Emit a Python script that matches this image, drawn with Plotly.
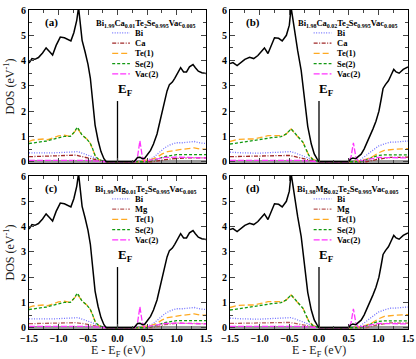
import plotly.graph_objects as go

# ---- data ----
# Bi1.99X0.01 (panels a, c)
e_tot_a = [-1.5, -1.45, -1.4, -1.34, -1.27, -1.21, -1.15, -1.1, -1.04, -0.97, -0.9, -0.84, -0.79,
           -0.74, -0.69, -0.66, -0.63, -0.6, -0.55, -0.5, -0.46, -0.42, -0.38, -0.33, -0.28, -0.23,
           -0.19, 0.28, 0.3, 0.34, 0.38, 0.42, 0.46, 0.5, 0.56, 0.61, 0.67, 0.72, 0.77, 0.8, 0.84,
           0.88, 0.93, 0.97, 1.02, 1.07, 1.12, 1.17, 1.22, 1.28, 1.32, 1.37, 1.43, 1.5]
tot_a = [3.9, 4.08, 4.05, 4.12, 4.3, 4.5, 4.35, 4.22, 4.6, 4.93, 4.9, 4.85, 4.78,
         5.1, 5.6, 6.1, 5.4, 4.8, 4.35, 3.85, 3.3, 2.5, 1.45, 0.85, 0.4, 0.12,
         0.0, 0.0, 0.05, 0.17, 0.18, 0.12, 0.14, 0.25, 0.45, 0.7, 1.1, 1.6, 2.1, 2.35, 2.8,
         3.05, 3.15, 3.3, 3.5, 3.72, 3.55, 3.55, 3.75, 3.84, 3.72, 3.58, 3.52, 3.49]

e_bi_a = [-1.5, -1.3, -1.1, -0.9, -0.75, -0.67, -0.55, -0.45, -0.35, -0.25, -0.15, 0.4, 0.5, 0.6,
          0.7, 0.8, 0.9, 1.0, 1.1, 1.2, 1.3, 1.4, 1.5]
bi_a = [0.35, 0.34, 0.35, 0.37, 0.38, 0.4, 0.3, 0.22, 0.12, 0.04, 0.0, 0.0, 0.05, 0.15,
        0.35, 0.55, 0.68, 0.75, 0.75, 0.78, 0.8, 0.74, 0.72]

e_dop_a = [-1.5, -1.2, -0.9, -0.7, -0.6, -0.5, -0.4, -0.3, -0.2, 0.6, 0.8, 1.0, 1.2, 1.5]
ca_a = [0.2, 0.22, 0.24, 0.26, 0.2, 0.15, 0.08, 0.03, 0.0, 0.0, 0.08, 0.13, 0.15, 0.15]
mg_a = [0.16, 0.17, 0.18, 0.2, 0.17, 0.13, 0.07, 0.03, 0.0, 0.0, 0.12, 0.18, 0.17, 0.16]

e_te_a = [-1.5, -1.43, -1.35, -1.25, -1.18, -1.1, -1.0, -0.9, -0.8, -0.74, -0.68, -0.6, -0.52,
          -0.46, -0.42, -0.38, -0.32, -0.25, -0.2, 0.35, 0.45, 0.55, 0.65, 0.75, 0.85, 0.95,
          1.05, 1.2, 1.3, 1.4, 1.5]
te_a = [0.8, 0.86, 0.88, 0.9, 0.87, 0.95, 1.02, 1.05, 1.0, 1.15, 1.32, 1.05, 0.9,
        0.72, 0.5, 0.25, 0.1, 0.02, 0.0, 0.0, 0.05, 0.08, 0.15, 0.3, 0.4, 0.45,
        0.48, 0.52, 0.55, 0.5, 0.5]

e_se_a = [-1.5, -1.4, -1.3, -1.2, -1.1, -1.0, -0.9, -0.8, -0.74, -0.68, -0.6, -0.52, -0.46,
          -0.42, -0.38, -0.32, -0.25, -0.2, 0.5, 0.6, 0.7, 0.8, 0.9, 1.0, 1.5]
se_a = [0.72, 0.75, 0.78, 0.82, 0.88, 0.95, 1.0, 1.0, 1.15, 1.37, 1.05, 0.9, 0.72,
        0.5, 0.25, 0.08, 0.02, 0.0, 0.0, 0.05, 0.12, 0.2, 0.25, 0.28, 0.28]

e_vac_a = [-1.5, -0.5, -0.3, -0.2, 0.3, 0.34, 0.38, 0.42, 0.46, 0.55, 0.7, 0.8, 1.0, 1.5]
vac_a = [0.05, 0.05, 0.02, 0.0, 0.0, 0.2, 0.83, 0.2, 0.02, 0.05, 0.12, 0.17, 0.18, 0.15]

# Bi1.98X0.02 (panels b, d)
e_tot_b = [-1.5, -1.45, -1.38, -1.32, -1.25, -1.17, -1.1, -1.03, -0.95, -0.92, -0.86, -0.8, -0.75,
           -0.68, -0.62, -0.55, -0.5, -0.47, -0.44, -0.41, -0.36, -0.3, -0.24, -0.19, -0.13, -0.08,
           -0.03, 0.0, 0.5, 0.53, 0.57, 0.62, 0.66, 0.71, 0.76, 0.81, 0.86, 0.91, 0.96, 1.01, 1.05,
           1.08, 1.12, 1.17, 1.21, 1.26, 1.3, 1.35, 1.42, 1.5]
tot_b = [3.88, 3.92, 3.8, 3.92, 4.05, 4.13, 4.08, 4.2, 4.45, 4.5, 4.28, 4.6, 4.9,
         4.88, 4.78, 5.0, 5.4, 6.1, 5.6, 5.1, 4.4, 3.6, 2.4, 1.4, 0.7, 0.31,
         0.1, 0.0, 0.0, 0.1, 0.15, 0.12, 0.2, 0.3, 0.5, 0.75, 1.0, 1.3, 1.6, 2.0, 2.5,
         2.9, 3.05, 3.2, 3.4, 3.65, 3.55, 3.5, 3.65, 3.75]

e_bi_b = [-1.5, -1.3, -1.0, -0.8, -0.6, -0.47, -0.35, -0.25, -0.15, -0.05, 0.05, 0.6, 0.7, 0.8,
          0.9, 1.0, 1.1, 1.2, 1.3, 1.4, 1.5]
bi_b = [0.38, 0.35, 0.34, 0.36, 0.38, 0.4, 0.3, 0.2, 0.1, 0.03, 0.0, 0.0, 0.08, 0.25,
        0.45, 0.62, 0.7, 0.77, 0.78, 0.8, 0.82]

e_dop_b = [-1.5, -1.2, -0.8, -0.5, -0.4, -0.3, -0.2, -0.1, 0.0, 0.8, 1.0, 1.2, 1.5]
ca_b = [0.2, 0.21, 0.23, 0.25, 0.2, 0.14, 0.08, 0.03, 0.0, 0.0, 0.1, 0.17, 0.18]
mg_b = [0.17, 0.18, 0.2, 0.21, 0.17, 0.12, 0.07, 0.03, 0.0, 0.0, 0.12, 0.19, 0.18]

e_te_b = [-1.5, -1.37, -1.2, -1.1, -1.0, -0.86, -0.7, -0.6, -0.53, -0.47, -0.4, -0.33, -0.27,
          -0.22, -0.17, -0.1, -0.03, 0.05, 0.55, 0.7, 0.8, 0.9, 1.0, 1.1, 1.3, 1.5]
te_b = [0.8, 0.88, 0.9, 0.9, 0.95, 1.03, 1.03, 1.03, 1.15, 1.3, 1.1, 0.9, 0.77,
        0.5, 0.25, 0.1, 0.02, 0.0, 0.0, 0.05, 0.1, 0.2, 0.35, 0.45, 0.5, 0.52]

e_se_b = [-1.5, -1.3, -1.2, -1.0, -0.8, -0.64, -0.55, -0.47, -0.4, -0.33, -0.27, -0.22, -0.17,
          -0.1, -0.03, 0.05, 0.7, 0.8, 0.9, 1.0, 1.1, 1.5]
se_b = [0.7, 0.78, 0.81, 0.88, 0.95, 0.99, 1.1, 1.3, 1.1, 0.9, 0.77, 0.5, 0.25,
        0.08, 0.02, 0.0, 0.0, 0.08, 0.18, 0.25, 0.27, 0.27]

e_vac_b = [-1.5, -0.3, -0.1, 0.0, 0.5, 0.54, 0.58, 0.62, 0.66, 0.75, 0.9, 1.0, 1.5]
vac_b = [0.05, 0.05, 0.02, 0.0, 0.0, 0.2, 0.75, 0.2, 0.02, 0.05, 0.12, 0.17, 0.15]

ef_x = [0, 0]
ef_y = [0, 2.4]

panels = [
    ('(a)', 'Ca', '1.99', '0.01', (e_tot_a, tot_a), (e_bi_a, bi_a), (e_dop_a, ca_a),
     (e_te_a, te_a), (e_se_a, se_a), (e_vac_a, vac_a)),
    ('(b)', 'Ca', '1.98', '0.02', (e_tot_b, tot_b), (e_bi_b, bi_b), (e_dop_b, ca_b),
     (e_te_b, te_b), (e_se_b, se_b), (e_vac_b, vac_b)),
    ('(c)', 'Mg', '1.99', '0.01', (e_tot_a, tot_a), (e_bi_a, bi_a), (e_dop_a, mg_a),
     (e_te_a, te_a), (e_se_a, se_a), (e_vac_a, vac_a)),
    ('(d)', 'Mg', '1.98', '0.02', (e_tot_b, tot_b), (e_bi_b, bi_b), (e_dop_b, mg_b),
     (e_te_b, te_b), (e_se_b, se_b), (e_vac_b, vac_b)),
]

W, H = 416, 359
xdom = [(29 / W, 206 / W), (230 / W, 408 / W)]
ydom = [(1 - 163 / H, 1 - 10 / H), (1 - 329 / H, 1 - 176 / H)]

SERIF = 'Liberation Serif'
styles = [('#7474ff', '1px,1.5px'), (None, '4px,1.5px,1px,1.5px'), ('#ffaa22', '6px,3px'),
          ('#119911', '3px,2px'), ('#ff33ff', '6px,2px')]
dop_color = {'Ca': '#a02828', 'Mg': '#b85a5a'}

fig = go.Figure()
shapes, annos = [], []

for i, p in enumerate(panels):
    lab, dop, xbi, xdop, tot, bi, dp, te, se, vac = p
    n = '' if i == 0 else str(i + 1)
    xa, ya = 'x' + n, 'y' + n
    names = ['Bi', dop, 'Te(1)', 'Se(2)', 'Vac(2)']
    parts = [bi, dp, te, se, vac]
    for k, (ex, vy) in enumerate(parts):
        col, dash = styles[k]
        if col is None:
            col = dop_color[dop]
        fig.add_trace(go.Scatter(x=ex, y=vy, mode='lines', xaxis=xa, yaxis=ya,
                                 line=dict(color=col, dash=dash, width=1.3), showlegend=False))
    fig.add_trace(go.Scatter(x=tot[0], y=tot[1], mode='lines', xaxis=xa, yaxis=ya,
                             line=dict(color='black', width=1.5), showlegend=False))
    fig.add_trace(go.Scatter(x=ef_x, y=ef_y, mode='lines', xaxis=xa, yaxis=ya,
                             line=dict(color='black', width=1.3), showlegend=False))

    row, col_ = i // 2, i % 2
    bottom = row == 1
    tickfont = dict(family=SERIF, size=10, color='black', weight='bold')
    fig.update_layout({
        'xaxis' + n: dict(domain=xdom[col_], anchor=ya, range=[-1.5, 1.5], dtick=0.5, tick0=-1.5,
                          tickformat='.1f', ticks='inside', ticklen=5, mirror='allticks',
                          showline=True, linecolor='black', linewidth=1, showgrid=False,
                          zeroline=False, showticklabels=bottom, automargin=False,
                          minor=dict(dtick=0.25, ticks='inside', ticklen=3, showgrid=False),
                          tickfont=tickfont),
        'yaxis' + n: dict(domain=ydom[row], anchor=xa, range=[-0.05, 6], dtick=1,
                          ticks='inside', ticklen=5, mirror='allticks', automargin=False,
                          showline=True, linecolor='black', linewidth=1, showgrid=False,
                          zeroline=True, zerolinecolor='#9a9a9a', zerolinewidth=2.5,
                          minor=dict(dtick=0.5, ticks='inside', ticklen=3, showgrid=False),
                          tickfont=tickfont,
                          title=dict(text='DOS (eV<sup>-1</sup>)' if col_ == 0 else '',
                                     font=dict(family=SERIF, size=12, color='#222'), standoff=3)),
    })

    xr, yr = xa + ' domain', ya + ' domain'
    if bottom:
        annos.append(dict(text='E - E<sub>F</sub> (eV)', xref=xr, yref='paper', x=0.5,
                          y=(H - 351) / H, yanchor='middle', showarrow=False,
                          font=dict(family=SERIF, size=12, color='#222')))
    annos.append(dict(text='<b>%s</b>' % lab, xref=xr, yref=yr, x=0.08, y=0.92,
                      yanchor='middle', showarrow=False,
                      font=dict(family=SERIF, size=11, color='black')))
    annos.append(dict(text='<b>E<sub>F</sub></b>', xref=xa, yref=ya, x=0, y=2.45,
                      xanchor='left', yanchor='bottom', xshift=-2, showarrow=False,
                      font=dict(family=SERIF, size=13, color='black')))
    formula = ('<b>Bi<sub>%s</sub>%s<sub>%s</sub>Te<sub>2</sub>Se<sub>0.995</sub>'
               'Vac<sub>0.005</sub></b>' % (xbi, dop, xdop))
    annos.append(dict(text=formula, xref=xr, yref=yr, x=0.66, y=0.915, yanchor='middle',
                      showarrow=False, font=dict(family=SERIF, size=8.5, color='black')))
    for k, name in enumerate(names):
        yy = 0.85 - k * 0.067
        c, dash = styles[k]
        if c is None:
            c = dop_color[dop]
        shapes.append(dict(type='line', xref=xr, yref=yr, x0=0.47, x1=0.57, y0=yy, y1=yy,
                           line=dict(color=c, dash=dash, width=1.3)))
        annos.append(dict(text='<b>%s</b>' % name, xref=xr, yref=yr, x=0.59, y=yy,
                          xanchor='left', yanchor='middle', showarrow=False,
                          font=dict(family=SERIF, size=8.5, color='black')))

fig.update_layout(width=W, height=H, margin=dict(l=0, r=0, t=0, b=0),
                  plot_bgcolor='white', paper_bgcolor='white', showlegend=False,
                  shapes=shapes, annotations=annos)

# the page body has a default 8px margin; drop it so the figure fills the window
fig.write_html("out.html", config={'displayModeBar': False},
               post_script="document.body.style.margin='0';")
